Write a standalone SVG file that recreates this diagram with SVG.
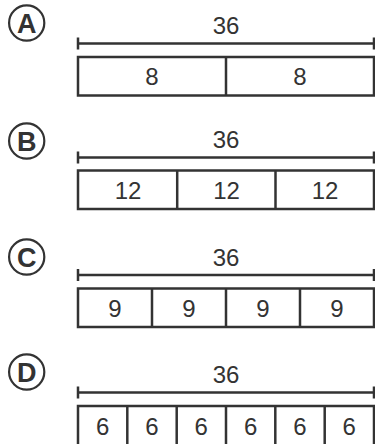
<svg xmlns="http://www.w3.org/2000/svg" width="375" height="444" viewBox="0 0 375 444">
<style>
.bg{fill:#fff}
.circ{fill:none;stroke:#333;stroke-width:2.2}
.let{font-family:"Liberation Sans",Arial,sans-serif;font-weight:bold;font-size:27px;fill:#333;text-anchor:middle}
.num{font-family:"Liberation Sans",Arial,sans-serif;font-size:24px;fill:#333;text-anchor:middle}
.dim{stroke:#333;stroke-width:2.5;fill:none}
.box{fill:#fff;stroke:#333;stroke-width:2.5}
.div{stroke:#333;stroke-width:2.5}
</style>
<rect class="bg" x="0" y="0" width="375" height="444"/>
<g id="A">
<circle class="circ" cx="26.7" cy="23" r="17.6"/>
<text class="let" x="26.7" y="33">A</text>
<text class="num" x="226" y="34">36</text>
<path class="dim" d="M78 43.5H374M78 37.5V49.5M374 37.5V49.5"/>
<rect class="box" x="78" y="57" width="296" height="38.5"/>
<line class="div" x1="226" y1="57" x2="226" y2="95.5"/>
<text class="num" x="152" y="85">8</text>
<text class="num" x="300" y="85">8</text>
</g>
<g id="B">
<circle class="circ" cx="26.7" cy="141" r="17.6"/>
<text class="let" x="26.7" y="151">B</text>
<text class="num" x="226" y="147.5">36</text>
<path class="dim" d="M78 157.5H374M78 151.5V163.5M374 151.5V163.5"/>
<rect class="box" x="78" y="170.5" width="296" height="38.5"/>
<line class="div" x1="177.2" y1="170.5" x2="177.2" y2="209"/>
<line class="div" x1="275.5" y1="170.5" x2="275.5" y2="209"/>
<text class="num" x="128" y="198.5">12</text>
<text class="num" x="226.5" y="198.5">12</text>
<text class="num" x="325" y="198.5">12</text>
</g>
<g id="C">
<circle class="circ" cx="26.7" cy="257" r="17.6"/>
<text class="let" x="26.7" y="267">C</text>
<text class="num" x="226" y="266">36</text>
<path class="dim" d="M78 275H374M78 269V281M374 269V281"/>
<rect class="box" x="78" y="288.5" width="296" height="38.5"/>
<line class="div" x1="152" y1="288.5" x2="152" y2="327"/>
<line class="div" x1="226" y1="288.5" x2="226" y2="327"/>
<line class="div" x1="300" y1="288.5" x2="300" y2="327"/>
<text class="num" x="115" y="317">9</text>
<text class="num" x="189" y="317">9</text>
<text class="num" x="263" y="317">9</text>
<text class="num" x="337" y="317">9</text>
</g>
<g id="D">
<circle class="circ" cx="26.7" cy="372" r="17.6"/>
<text class="let" x="26.7" y="382">D</text>
<text class="num" x="226" y="382.7">36</text>
<path class="dim" d="M78 392.5H374M78 386.5V398.5M374 386.5V398.5"/>
<rect class="box" x="78" y="406" width="296" height="39.5"/>
<line class="div" x1="127.3" y1="406" x2="127.3" y2="445"/>
<line class="div" x1="176.7" y1="406" x2="176.7" y2="445"/>
<line class="div" x1="226" y1="406" x2="226" y2="445"/>
<line class="div" x1="275.3" y1="406" x2="275.3" y2="445"/>
<line class="div" x1="324.7" y1="406" x2="324.7" y2="445"/>
<text class="num" x="102.7" y="435">6</text>
<text class="num" x="152" y="435">6</text>
<text class="num" x="201.3" y="435">6</text>
<text class="num" x="250.7" y="435">6</text>
<text class="num" x="300" y="435">6</text>
<text class="num" x="349.3" y="435">6</text>
</g>
</svg>
